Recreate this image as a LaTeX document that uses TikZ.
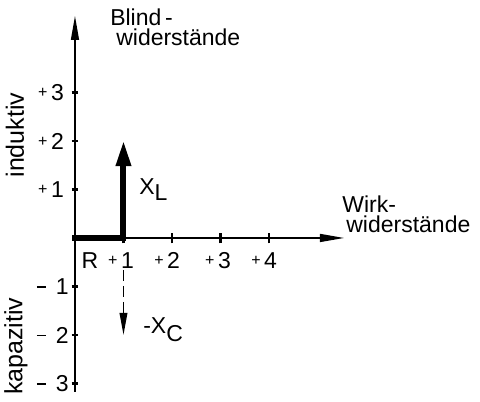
\documentclass[tikz,border=0pt]{standalone}
\usepackage{fontspec}
\setmainfont{Liberation Sans}
\usetikzlibrary{arrows.meta}
\newcommand{\smallplus}{\raisebox{1.4pt}{\fontsize{8}{8}\selectfont+}\hspace{1.8pt}}
\newcommand{\axminus}{\rule[3.4pt]{4.6pt}{0.85pt}\hspace{5pt}}

\begin{document}
\begin{tikzpicture}[
  x=24.25pt, y=24.25pt,
  every node/.style={font=\fontsize{11.5}{10}\selectfont, inner sep=0pt},
  axis/.style={line width=1.3pt, -{Triangle[length=12.5pt, width=3.8pt]}},
  axtick/.style={line width=1.2pt},
  vecbar/.style={line width=3pt},
  ylbl/.style={anchor=east},
  side/.style={rotate=90, font=\fontsize{12.5}{12}\selectfont},
]
  \useasboundingbox (-1.546,-3.381) rectangle (8.351,4.907);

  % Axes
  \coordinate (O) at (0,0);
  \coordinate (xstart) at (-0.06,0);
  \coordinate (xend) at (5.567,0);
  \coordinate (ybot) at (0,-3.175);
  \coordinate (ytop) at (0,4.598);
  \draw[axis] (xstart) -- (xend);
  \draw[axis] (ybot) -- (ytop);

  % Ticks
  \draw[axtick] (-0.07,1) -- (0.07,1);
  \draw[axtick] (-0.07,2) -- (0.07,2);
  \draw[axtick] (-0.07,3) -- (0.07,3);
  \draw[axtick] (-0.07,-1) -- (0.07,-1);
  \draw[axtick] (-0.07,-2) -- (0.07,-2);
  \draw[axtick] (-0.07,-3) -- (0.07,-3);
  \draw[axtick] (1,-0.11) -- (1,0.1);
  \draw[axtick] (2,-0.11) -- (2,0.1);
  \draw[axtick] (3,-0.11) -- (3,0.1);
  \draw[axtick] (4,-0.11) -- (4,0.1);

  % Resistances
  \coordinate (r) at (1,0);
  \coordinate (xl) at (1,2.02);
  \coordinate (xc0) at (1,-0.66);
  \coordinate (xc1) at (1,-2.0);
  \draw[vecbar, line cap=rect] (O) -- (r);
  \draw[vecbar, -{Triangle[length=13pt, width=7pt]}] (r) -- (xl);
  \draw[line width=0.8pt, dash pattern=on 5.5pt off 2.5pt,
        -{Triangle[length=11pt, width=3.8pt]}] (xc0) -- (xc1);

  % Scale labels
  \node[ylbl] (yp3) at (-0.22,3) {\smallplus 3};
  \node[ylbl] (yp2) at (-0.22,2) {\smallplus 2};
  \node[ylbl] (yp1) at (-0.22,1) {\smallplus 1};
  \node[ylbl] (ym1) at (-0.12,-1) {\axminus 1};
  \node[ylbl] (ym2) at (-0.12,-2) {\axminus 2};
  \node[ylbl] (ym3) at (-0.12,-3) {\axminus 3};
  \node (rlbl) at (0.31,-0.464) {R};
  \node (xp1) at (0.95,-0.464) {\smallplus 1};
  \node (xp2) at (1.90,-0.464) {\smallplus 2};
  \node (xp3) at (2.95,-0.464) {\smallplus 3};
  \node (xp4) at (3.90,-0.464) {\smallplus 4};

  % Vector labels
  \node[anchor=base west] (xllbl) at (1.32,0.887) {X\raisebox{-3pt}{L}};
  \node[anchor=base west] (xclbl) at (1.40,-1.96) {-X\raisebox{-4pt}{C}};

  % Axis titles
  \node[anchor=north west, align=left] (blind) at (0.72,4.742) {Blind\,-\\\hspace{3pt}widerstände};
  \node[anchor=north west, align=left] (wirk) at (5.505,0.887) {Wirk-\\\hspace{2pt}widerstände};
  \node[side] (ind) at (-1.24,2.12) {induktiv};
  \node[side] (kap) at (-1.22,-2.23) {kapazitiv};
\end{tikzpicture}
\end{document}
